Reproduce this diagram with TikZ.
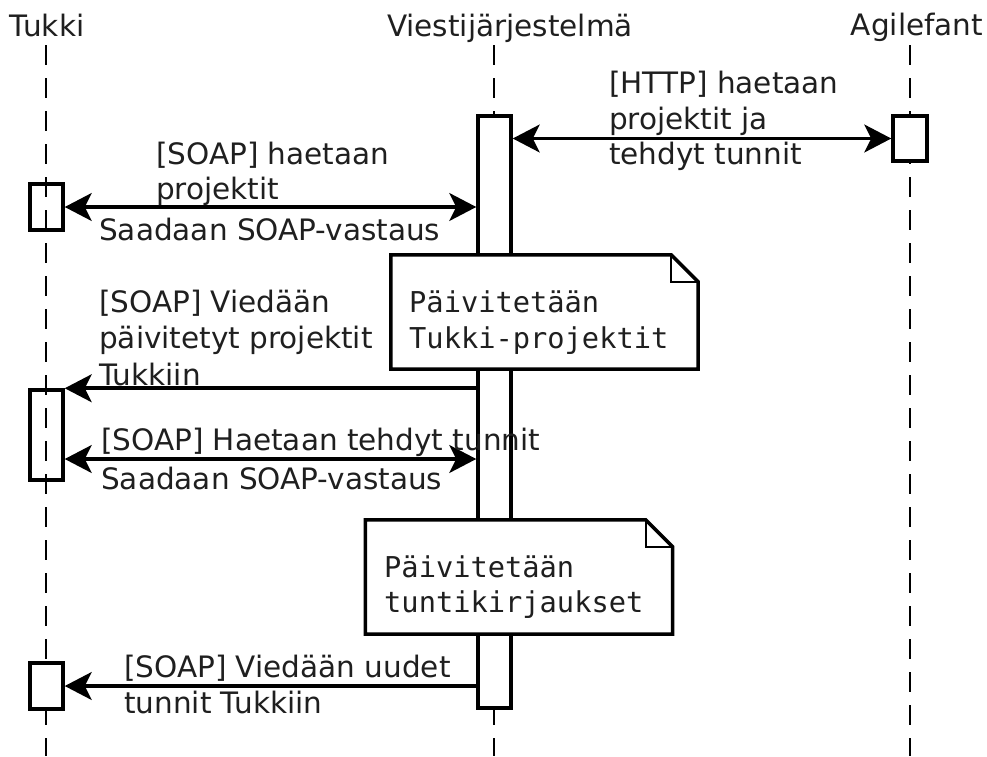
\documentclass[tikz,border=0pt]{standalone}
\usepackage{fontspec}
\setmainfont{DejaVu Sans}
\newfontfamily\notefont{DejaVu Sans Mono}
\usetikzlibrary{arrows.meta}
\begin{document}
\begin{tikzpicture}[x=1pt,y=-1pt,
  lifeline/.style={draw=black, line width=1.8pt, dash pattern=on 20pt off 13pt},
  actbox/.style={draw=black, line width=3.5pt, minimum width=33pt, inner sep=0pt},
  msg/.style={line width=3.8pt, -{Stealth[length=27pt,width=28pt,inset=7pt,line width=2.5pt,fill=black]}},
  bimsg/.style={line width=3.8pt, {Stealth[length=27pt,width=28pt,inset=7pt,line width=2.5pt,fill=black]}-{Stealth[length=27pt,width=28pt,inset=7pt,line width=2.5pt,fill=black]}},
  lbl/.style={anchor=base west, inner sep=0pt, text=black!88, font=\fontsize{29.5}{34}\selectfont},
  hdr/.style={inner sep=0pt, anchor=base, text=black!88, font=\fontsize{29.5}{34}\selectfont},
  notetxt/.style={anchor=base west, inner sep=0pt, text=black!88, font=\notefont\fontsize{28.7}{34}\selectfont},
  notebox/.style={minimum width=307pt, minimum height=114pt, inner sep=0pt, fill=white},
  noteline/.style={draw=black, line width=3.5pt, line join=miter},
  foldline/.style={draw=black, line width=2pt}
]
\useasboundingbox (0,0) rectangle (987,756);

% headers
\node[hdr] (hT) at (47,36) {Tukki};
\node[hdr] (hV) at (510,36) {Viestijärjestelmä};
\node[hdr] (hA) at (917,35) {Agilefant};

% lifelines
\coordinate (tT) at (46,45);  \coordinate (bT) at (46,756);
\coordinate (tV) at (494,45); \coordinate (bV) at (494,756);
\coordinate (tA) at (910,45); \coordinate (bA) at (910,756);
\draw[lifeline] (tT) -- (bT);
\draw[lifeline] (tV) -- (bV);
\draw[lifeline] (tA) -- (bA);

% activation boxes
\node[actbox, fill=white, minimum height=592pt] (bar) at (494.5,412) {};
\node[actbox, fill=white, minimum height=45pt, minimum width=34pt] (ag) at (910,138.5) {};
\node[actbox, minimum height=46pt] (t1) at (46.5,207) {};
\node[actbox, minimum height=90pt] (t2) at (46.5,435) {};
\node[actbox, fill=white, minimum height=46pt] (t3) at (46.5,686) {};

% messages
\draw[bimsg] (bar.east |- ag.west) -- (ag.west);
\draw[bimsg] (t1.east) -- (bar.west |- t1.east);
\draw[msg] (bar.west |- t2.north east) -- (t2.north east);
\coordinate (m4) at (46.5,459);
\draw[bimsg] (t2.east |- m4) -- (bar.west |- m4);
\draw[msg] (bar.west |- t3.east) -- (t3.east);

% notes
\node[notebox] (n1) at (544.5,312) {};
\draw[noteline] (n1.north west) -- ([xshift=-27pt]n1.north east) -- ([yshift=-27pt]n1.north east) -- (n1.south east) -- (n1.south west) -- cycle;
\draw[foldline] ([xshift=-27pt]n1.north east) -- ([xshift=-27pt,yshift=-27pt]n1.north east) -- ([yshift=-27pt]n1.north east);
\node[notetxt] (n1a) at (409,312) {Päivitetään};
\node[notetxt] (n1b) at (409,348) {Tukki-projektit};

\node[notebox] (n2) at (519,577) {};
\draw[noteline] (n2.north west) -- ([xshift=-27pt]n2.north east) -- ([yshift=-27pt]n2.north east) -- (n2.south east) -- (n2.south west) -- cycle;
\draw[foldline] ([xshift=-27pt]n2.north east) -- ([xshift=-27pt,yshift=-27pt]n2.north east) -- ([yshift=-27pt]n2.north east);
\node[notetxt] (n2a) at (384,577) {Päivitetään};
\node[notetxt] (n2b) at (384,612) {tuntikirjaukset};

% labels
\node[lbl] (la1) at (609,93) {[HTTP] haetaan};
\node[lbl] (la2) at (609,129) {projektit ja};
\node[lbl] (la3) at (609,164) {tehdyt tunnit};

\node[lbl] (lb1) at (156,164) {[SOAP] haetaan};
\node[lbl] (lb2) at (156,199) {projektit};
\node[lbl] (lb3) at (99,240) {Saadaan SOAP-vastaus};

\node[lbl] (lc1) at (99,312) {[SOAP] Viedään};
\node[lbl] (lc2) at (99,348) {päivitetyt projektit};
\node[lbl] (lc3) at (99,385) {Tukkiin};

\node[lbl] (ld1) at (101,450) {[SOAP] Haetaan tehdyt tunnit};
\node[lbl] (ld2) at (101,489) {Saadaan SOAP-vastaus};

\node[lbl] (le1) at (124,677) {[SOAP] Viedään uudet};
\node[lbl] (le2) at (124,713) {tunnit Tukkiin};
\end{tikzpicture}
\end{document}
